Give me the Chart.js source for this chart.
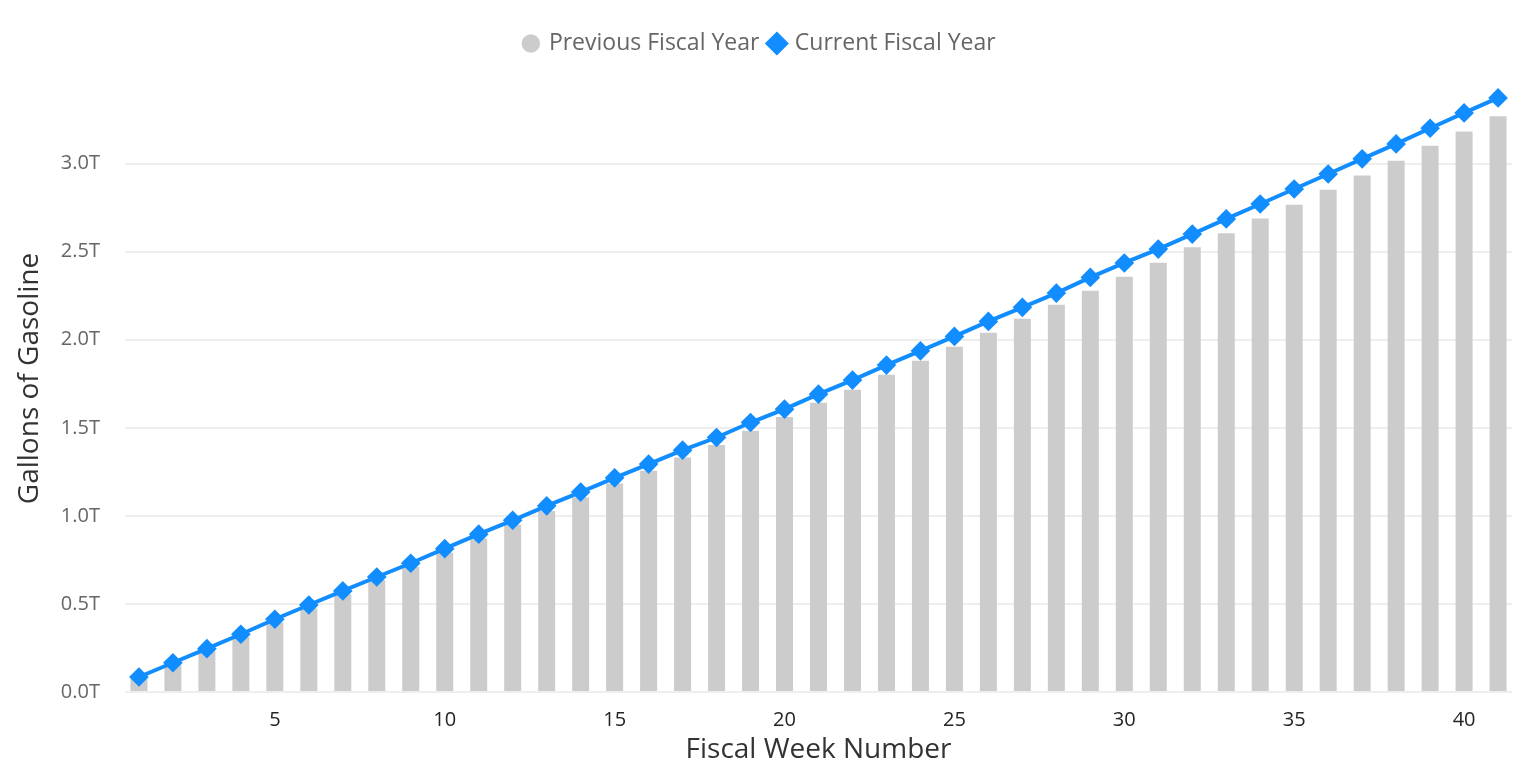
<!DOCTYPE html>
<html>
<head>
<meta charset="utf-8">
<script src="https://cdn.jsdelivr.net/npm/chart.js@4/dist/chart.umd.min.js"></script>
<style>
  html, body { margin: 0; padding: 0; overflow: hidden; background: #fff; }
  #wrap { width: 1524px; height: 770px; }
</style>
</head>
<body>
<div id="wrap"><canvas id="myChart"></canvas></div>
<script>
// fiscal weeks 1..41, values in trillions of gallons
var weeks = [1,2,3,4,5,6,7,8,9,10,11,12,13,14,15,16,17,18,19,20,21,22,23,24,25,26,27,28,29,30,31,32,33,34,35,36,37,38,39,40,41];
var previousYear = [0.075,0.155,0.235,0.315,0.395,0.475,0.555,0.636,0.710,0.792,0.871,0.949,1.028,1.104,1.184,1.256,1.331,1.403,1.483,1.562,1.642,1.716,1.801,1.881,1.960,2.040,2.119,2.199,2.278,2.358,2.437,2.525,2.604,2.689,2.767,2.852,2.932,3.017,3.102,3.182,3.269];
var currentYear = [0.085,0.166,0.246,0.328,0.413,0.494,0.574,0.653,0.731,0.814,0.896,0.975,1.057,1.135,1.216,1.294,1.373,1.445,1.530,1.606,1.691,1.771,1.856,1.937,2.019,2.104,2.184,2.265,2.354,2.436,2.515,2.600,2.686,2.771,2.856,2.941,3.027,3.112,3.201,3.288,3.373];
var xTicks = [5,10,15,20,25,30,35,40];
var yTicks = [0,0.5,1.0,1.5,2.0,2.5,3.0];

var font = "'Open Sans', 'Noto Sans', sans-serif";

function pts(arr) {
    return weeks.map(function(w, i){ return {x: w, y: arr[i]}; });
}

new Chart("myChart", {
    data: {
        datasets: [{
            type: "bar",
            label: "Previous Fiscal Year",
            data: pts(previousYear),
            backgroundColor: "#CCCCCC",
            borderWidth: 0,
            barPercentage: 0.5,
            categoryPercentage: 1.0,
            pointStyle: "circle",
            order: 1
        }, {
            type: "line",
            label: "Current Fiscal Year",
            data: pts(currentYear),
            borderColor: "#118DFF",
            backgroundColor: "#118DFF",
            borderWidth: 4,
            pointStyle: "rectRot",
            pointRadius: 7,
            pointHoverRadius: 7,
            fill: false,
            lineTension: 0,
            order: 0
        }]
    },
    options: {
        responsive: true,
        maintainAspectRatio: false,
        animation: false,
        layout: { padding: { left: 8, right: 12, top: 21, bottom: 0 } },
        plugins: {
            legend: {
                position: "top",
                labels: {
                    usePointStyle: true,
                    boxWidth: 13,
                    boxHeight: 13,
                    padding: 11,
                    color: "#666666",
                    font: { family: font, size: 23 },
                    sort: function(a, b){ return a.datasetIndex - b.datasetIndex; }
                }
            },
            tooltip: { enabled: false }
        },
        scales: {
            x: {
                type: "linear",
                offset: false,
                min: 0.59,
                max: 41.41,
                afterBuildTicks: function(axis){
                    axis.ticks = xTicks.map(function(v){ return {value: v}; });
                },
                afterFit: function(axis){ axis.height = 78; },
                grid: { display: false },
                border: { display: false },
                ticks: {
                    color: "#252423",
                    padding: 8,
                    font: { family: font, size: 20 },
                    callback: function(v){ return v; }
                },
                title: {
                    display: true,
                    text: "Fiscal Week Number",
                    color: "#333333",
                    padding: { top: 0, bottom: 3 },
                    font: { family: font, size: 28 }
                }
            },
            y: {
                min: 0,
                max: 3.56,
                afterBuildTicks: function(axis){
                    axis.ticks = yTicks.map(function(v){ return {value: v}; });
                },
                afterFit: function(axis){ axis.width = 117; },
                grid: { color: "#EEEEEE", lineWidth: 2, drawTicks: false },
                border: { display: false },
                ticks: {
                    color: "#666666",
                    padding: 25,
                    font: { family: font, size: 20 },
                    callback: function(v){ return v.toFixed(1) + "T"; }
                },
                title: {
                    display: true,
                    text: "Gallons of Gasoline",
                    color: "#333333",
                    padding: { top: 5, bottom: 0 },
                    font: { family: font, size: 28 }
                }
            }
        }
    }
});
</script>
</body>
</html>
